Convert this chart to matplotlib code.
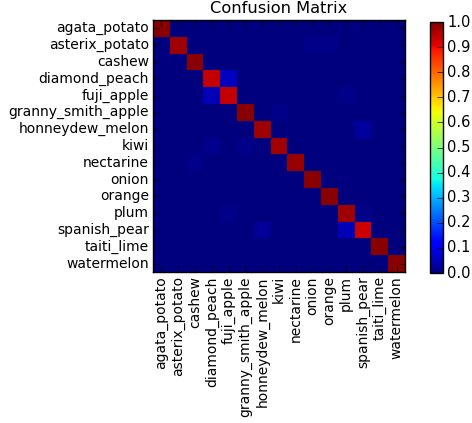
import numpy as np
import matplotlib
matplotlib.use('Agg')
import matplotlib.pyplot as plt

plt.style.use('classic')

classes = ['agata_potato', 'asterix_potato', 'cashew', 'diamond_peach', 'fuji_apple',
           'granny_smith_apple', 'honneydew_melon', 'kiwi', 'nectarine', 'onion',
           'orange', 'plum', 'spanish_pear', 'taiti_lime', 'watermelon']

# diagonal (recall per class)
diag = [0.99, 0.97, 0.99, 0.94, 0.94, 0.99, 0.97, 0.97, 0.98, 0.99, 0.99, 0.97, 0.93, 0.99, 0.99]

# off-diagonal confusions: (true row, predicted col, value)
off_rows = [3, 4, 6, 12, 12, 1, 1, 5, 7, 7, 8, 11, 4, 11]
off_cols = [4, 3, 12, 11, 6, 9, 10, 7, 3, 5, 2, 4, 11, 12]
off_vals = [0.055, 0.05, 0.03, 0.05, 0.02, 0.01, 0.01, 0.01, 0.015, 0.01, 0.01, 0.01, 0.01, 0.01]

cm = np.diag(diag)
for r, c, v in zip(off_rows, off_cols, off_vals):
    cm[r, c] = v

fig = plt.figure(figsize=(4.72, 4.23), dpi=100)
ax = fig.add_axes([153/472, 1 - 272/423, 252/472, 252/423])
im = ax.imshow(cm, interpolation='nearest', cmap='jet', vmin=0, vmax=1)
ax.set_title('Confusion Matrix', fontsize=11.7)
ticks = np.arange(len(classes))
ax.set_xticks(ticks)
ax.set_xticklabels(classes, rotation=90, fontsize=10)
ax.set_yticks(ticks)
ax.set_yticklabels(classes, fontsize=10)
ax.tick_params(pad=3)

cax = fig.add_axes([430/472, 1 - 273/423, 13/472, 251/423])
cb = fig.colorbar(im, cax=cax, ticks=np.linspace(0, 1, 11), format='%.1f')
cb.ax.tick_params(labelsize=10.5, pad=3)

fig.savefig('out.png', dpi=100)
